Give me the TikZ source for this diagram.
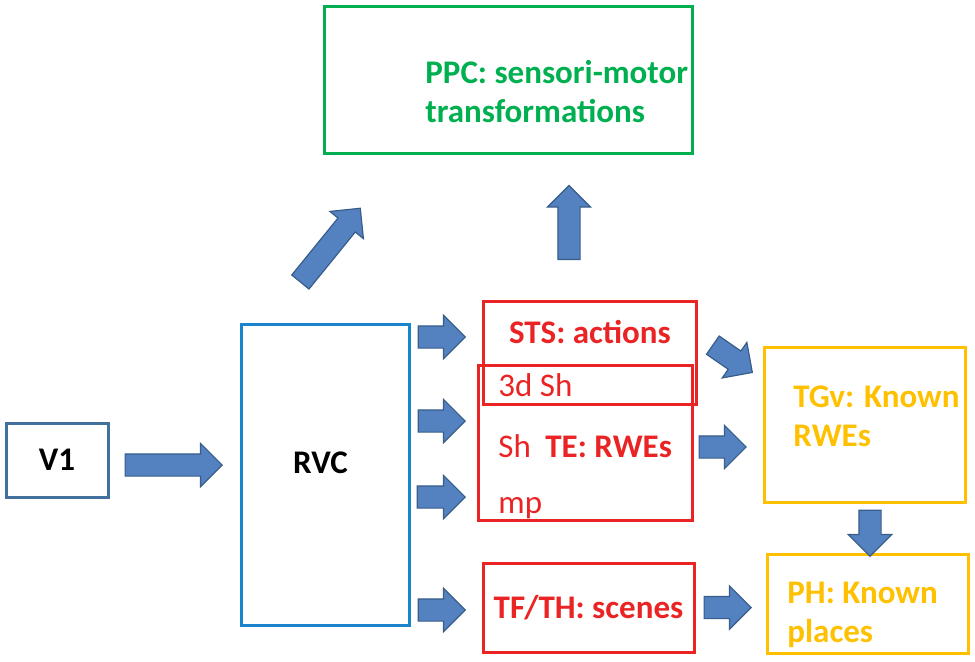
\documentclass[tikz,border=0pt]{standalone}
\usepackage{fontspec}
\setmainfont{Carlito}
\usetikzlibrary{shapes.arrows, positioning}

\definecolor{vonecol}{RGB}{65,113,156}
\definecolor{rvccol}{RGB}{28,132,204}
\definecolor{ppccol}{RGB}{0,176,80}
\definecolor{redcol}{RGB}{234,36,36}
\definecolor{goldcol}{RGB}{255,192,0}
\definecolor{arrowfill}{RGB}{84,130,192}
\definecolor{arrowline}{RGB}{56,93,138}

\begin{document}
\begin{tikzpicture}[x=0.5pt, y=-0.5pt,
    box/.style={rectangle, line width=1.5pt, inner sep=0pt},
    boldtext/.style={font=\fontsize{16.5}{19.5}\selectfont\bfseries, inner sep=0pt, align=left},
    thintext/.style={font=\fontsize{16.5}{19.5}\selectfont, inner sep=0pt, text=redcol},
    blockarrow/.style={single arrow, draw=arrowline, fill=arrowfill, line width=0.6pt,
        inner xsep=0pt, inner ysep=5.25pt, single arrow head extend=5.25pt,
        sloped, allow upside down, anchor=tip}]
    \useasboundingbox (0,0) rectangle (975,661);

    % Boxes
    \node[box, draw=vonecol, minimum width=51pt, minimum height=37pt, boldtext] (v1) at (57,460) {V1};
    \node[box, draw=rvccol, minimum width=84pt, minimum height=150.5pt] (rvc) at (325,474.5) {};
    \node[box, draw=ppccol, minimum width=184pt, minimum height=73.5pt] (ppc) at (508,80) {};
    \node[box, draw=redcol, minimum width=106.5pt, minimum height=51.5pt] (sts) at (589.5,352.5) {};
    \node[box, draw=redcol, minimum width=107pt, minimum height=77.5pt] (te) at (585,442.5) {};
    \node[box, draw=redcol, minimum width=105.5pt, minimum height=44.5pt, boldtext, text=redcol] (tf) at (588.5,607.5) {TF/TH: scenes};
    \node[box, draw=goldcol, minimum width=100.5pt, minimum height=77.5pt] (tgv) at (864.5,424.5) {};
    \node[box, draw=goldcol, minimum width=100.5pt, minimum height=49.5pt] (ph) at (867.5,603.5) {};

    % Labels
    \node[boldtext, anchor=base] (rvctxt) at (320.5,473) {RVC};
    \node[boldtext, text=ppccol, anchor=base west] (ppctxt) at (425,122) {PPC: sensori-motor\\transformations};
    \node[boldtext, text=redcol, anchor=base] (ststxt) at (590,343) {STS: actions};
    \node[thintext, anchor=base west] (threedsh) at (498,396) {3d Sh};
    \node[thintext, anchor=base west] (sh) at (498,457) {Sh};
    \node[boldtext, text=redcol, anchor=base west] (tetxt) at (545,457) {TE: RWEs};
    \node[thintext, anchor=base west] (mp) at (498,513) {mp};
    \node[boldtext, text=goldcol, anchor=base west] (tgvtxt) at (793,446) {TGv: Known\\RWEs};
    \node[boldtext, text=goldcol, anchor=base west] (phtxt) at (787,642) {PH: Known\\places};

    % Block arrows (placed by their tips)
    \path ([yshift=-2.5pt]v1.east) -- node[blockarrow, pos=0.873, minimum height=48.5pt] (arrvone) {} ([yshift=-2.5pt]v1.east -| rvc.west);
    \path ([yshift=68.75pt]rvc.east) -- node[blockarrow, pos=0.782, minimum height=23.5pt] (arrsts) {} ([yshift=68.75pt]rvc.east -| sts.west);
    \path ([yshift=26.75pt]rvc.east) -- node[blockarrow, pos=0.841, minimum height=23.5pt] (arrteone) {} ([yshift=26.75pt]rvc.east -| te.west);
    \path ([yshift=-11.25pt]rvc.east) -- node[blockarrow, pos=0.841, minimum height=24pt] (arrtetwo) {} ([yshift=-11.25pt]rvc.east -| te.west);
    \path ([yshift=-67.75pt]rvc.east) -- node[blockarrow, pos=0.782, minimum height=23.5pt] (arrtf) {} ([yshift=-67.75pt]rvc.east -| tf.west);
    \path ([xshift=14pt]rvc.north west) -- node[blockarrow, pos=0.686, minimum height=47.5pt] (arrppcone) {} ([xshift=40.5pt]ppc.south west);
    \path ([xshift=-10.25pt]sts.north) -- node[blockarrow, pos=0.795, minimum height=37pt] (arrppctwo) {} ([xshift=-10.25pt]sts.north |- ppc.south);
    \path ([yshift=9pt]sts.east) -- node[blockarrow, pos=0.854, minimum height=24pt] (arrtgvone) {} ([yshift=22.5pt]tgv.west);
    \path ([yshift=-2.25pt]te.east) -- node[blockarrow, pos=0.775, minimum height=23.5pt] (arrtgvtwo) {} ([yshift=-2.25pt]te.east -| tgv.west);
    \path ([xshift=2.75pt]tgv.south) -- node[blockarrow, pos=0.535, minimum height=23pt] (arrph) {} ([xshift=2.75pt]tgv.south |- ph.center);
    \path (tf.east) -- node[blockarrow, pos=0.807, minimum height=23.5pt] (arrphtwo) {} (tf.east -| ph.west);
\end{tikzpicture}
\end{document}
